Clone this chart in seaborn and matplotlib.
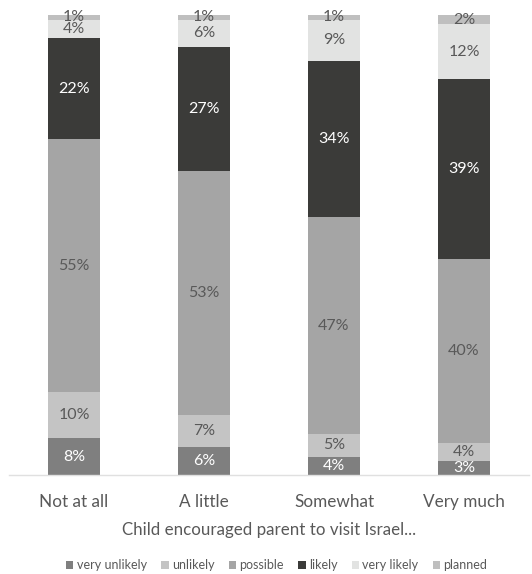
import matplotlib
matplotlib.use("Agg")
import matplotlib.pyplot as plt
import seaborn as sns
import numpy as np
import pandas as pd
from matplotlib.patches import Patch

categories = ["Not at all", "A little", "Somewhat", "Very much"]
series = ["very unlikely", "unlikely", "possible", "likely", "very likely", "planned"]
very_unlikely = [8, 6, 4, 3]
unlikely = [10, 7, 5, 4]
possible = [55, 53, 47, 40]
likely = [22, 27, 34, 39]
very_likely = [4, 6, 9, 12]
planned = [1, 1, 1, 2]
values = [very_unlikely, unlikely, possible, likely, very_likely, planned]

colors = ["#7f7f7f", "#c4c4c4", "#a5a5a5", "#3b3b39", "#e2e3e2", "#bfbfbf"]
text_colors = ["white", "#595959", "#595959", "white", "#595959", "#595959"]

sns.set_theme(style="white")
plt.rcParams["font.family"] = ["Lato", "DejaVu Sans"]

fig = plt.figure(figsize=(5.32, 5.74), dpi=100)
ax = fig.add_axes([9 / 532, 1 - 475 / 574, 520 / 532, 460 / 574])

bottom = np.zeros(len(categories))
for name, vals, col, tc in zip(series, values, colors, text_colors):
    df = pd.DataFrame({"cat": categories, "val": vals})
    sns.barplot(data=df, x="cat", y="val", color=col, width=0.4, bottom=bottom,
                ax=ax, saturation=1, linewidth=0)
    cont = ax.containers[-1]
    ax.bar_label(cont, labels=[f"{v}%" for v in vals], label_type="center",
                 color=tc, fontsize=11.5)
    bottom = bottom + np.array(vals)

ax.set_ylim(0, 100)
ax.set_xlim(-0.5, 3.5)
ax.set_yticks([])
for s in ["top", "left", "right"]:
    ax.spines[s].set_visible(False)
ax.spines["bottom"].set_color("#e0e0e0")
ax.spines["bottom"].set_linewidth(1)
ax.tick_params(axis="x", length=0, pad=14, labelsize=12.3, labelcolor="#595959")
ax.set_xlabel("Child encouraged parent to visit Israel...", fontsize=12.2,
              color="#595959", labelpad=8)
ax.set_ylabel("")

handles = [Patch(facecolor=c, edgecolor="none", label=s) for s, c in zip(series, colors)]
fig.legend(handles=handles, loc="lower center", ncol=6, frameon=False,
           fontsize=9, handlelength=0.6, handleheight=0.6, handletextpad=0.25,
           columnspacing=1.15, bbox_to_anchor=(0.52, -0.015), labelcolor="#595959")

fig.savefig("out.png", dpi=100, facecolor="white")
